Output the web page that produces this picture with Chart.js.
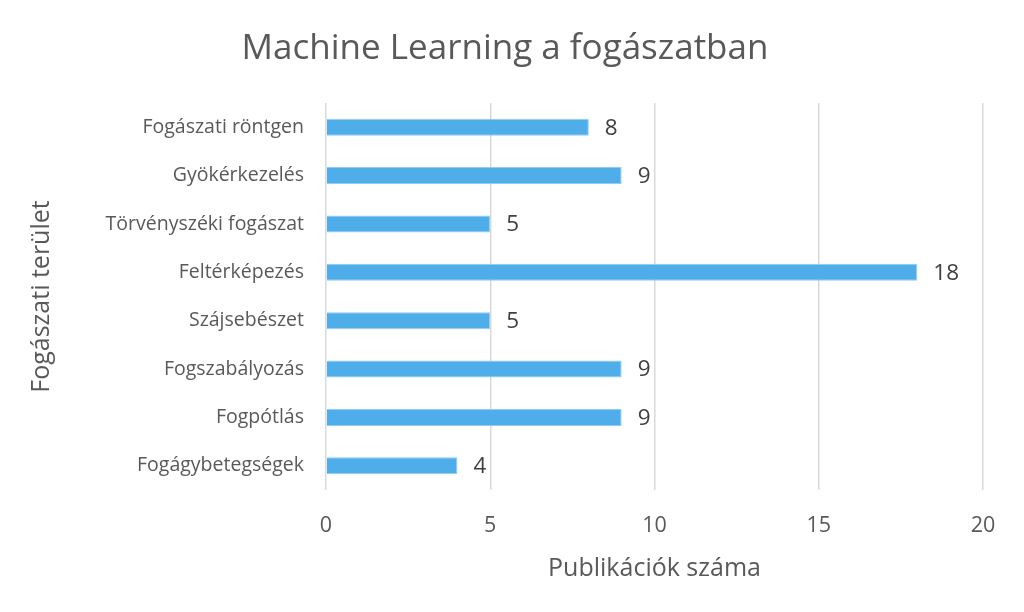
<!DOCTYPE html>
<html>
<head>
<meta charset="utf-8">
<script src="https://cdn.jsdelivr.net/npm/chart.js@4/dist/chart.umd.min.js"></script>
<style>
html,body{margin:0;padding:0;background:#fff;}
#wrap{width:1024px;height:612px;}
</style>
</head>
<body>
<div id="wrap"><canvas id="c" width="1024" height="612"></canvas></div>
<script>
const categories = ["Fogászati röntgen","Gyökérkezelés","Törvényszéki fogászat","Feltérképezés","Szájsebészet","Fogszabályozás","Fogpótlás","Fogágybetegségek"];
const values = [8,9,5,18,5,9,9,4];
const xTicks = [0,5,10,15,20];
const chartTitle = "Machine Learning a fogászatban";
const xTitle = "Publikációk száma";
const yTitle = "Fogászati terület";

const FONT = "'Open Sans', sans-serif";

const valueLabels = {
  id: 'valueLabels',
  afterDatasetsDraw(chart){
    const ctx = chart.ctx;
    const meta = chart.getDatasetMeta(0);
    ctx.save();
    ctx.fillStyle = '#404040';
    ctx.font = "22.5px " + FONT;
    ctx.textAlign = 'left';
    ctx.textBaseline = 'middle';
    meta.data.forEach((bar,i)=>{
      ctx.fillText(String(values[i]), bar.x + 16, bar.y + 1);
    });
    ctx.restore();
  }
};

new Chart(document.getElementById('c'), {
  type: 'bar',
  data: {
    labels: categories,
    datasets: [{
      data: values,
      backgroundColor: '#4FAEEA',
      borderColor: '#8FCBF2',
      borderWidth: 1,
      barPercentage: 0.7,
      categoryPercentage: 0.5
    }]
  },
  options: {
    indexAxis: 'y',
    responsive: false,
    animation: false,
    devicePixelRatio: 1,
    layout: { padding: { left: 27, right: 41, top: 0, bottom: 28 } },
    plugins: {
      legend: { display: false },
      tooltip: { enabled: false },
      title: {
        display: true,
        text: chartTitle,
        color: '#595959',
        font: { family: FONT, size: 35, weight: 'normal' },
        padding: { top: 28, bottom: 33 }
      }
    },
    scales: {
      x: {
        min: 0, max: 20,
        afterBuildTicks(scale){ scale.ticks = xTicks.map(v=>({value:v})); },
        grid: { color: '#D9D9D9', lineWidth: 1.5, drawTicks: false },
        border: { display: false },
        ticks: { color: '#595959', font: { family: FONT, size: 21.5 }, padding: 23 },
        title: { display: true, text: xTitle, color: '#595959', font: { family: FONT, size: 25 }, padding: { top: 0, bottom: 0 } },
        afterFit(scale){ scale.height = 94; }
      },
      y: {
        grid: { display: false, drawTicks: false },
        border: { display: false },
        ticks: { color: '#595959', font: { family: FONT, size: 19.5 }, padding: 22 },
        title: { display: true, text: yTitle, color: '#595959', font: { family: FONT, size: 25 }, padding: { top: 0, bottom: 0 } },
        afterFit(scale){ scale.width = 299; }
      }
    }
  },
  plugins: [valueLabels]
});
</script>
</body>
</html>
